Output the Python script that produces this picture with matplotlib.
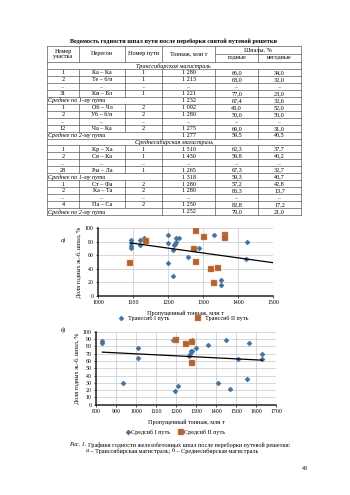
import matplotlib
matplotlib.use("Agg")
import matplotlib.pyplot as plt

plt.rcParams["font.family"] = ["Liberation Serif", "DejaVu Serif"]

W, H = 350, 495

# --- table data ---
table_title = "Ведомость годности шпал пути после переборки снятой путевой решетки"
header = ["Номер\nучастка", "Перегон", "Номер пути", "Тоннаж, млн т"]
header_group = "Шпалы, %"
header_sub = ["годные", "негодные"]

table_rows = [
    ("section", "Транссибирская магистраль"),
    ("row", ["1", "Ка – Ка", "1", "1 280", "66,0", "34,0"]),
    ("row", ["2", "Те – б/п", "1", "1 213", "68,0", "32,0"]),
    ("dots", None),
    ("row", ["31", "Ки – Бл", "1", "1 221", "77,0", "23,0"]),
    ("avg", ["Среднее по 1-му пути", "1 232", "67,4", "32,6"]),
    ("row", ["1", "Об – Чл", "2", "1 092", "48,0", "52,0"]),
    ("row", ["2", "Уб – б/п", "2", "1 280", "50,0", "50,0"]),
    ("dots", None),
    ("row", ["12", "Ча – Ка", "2", "1 275", "69,0", "31,0"]),
    ("avg", ["Среднее по 2-му пути", "1 277", "59,5", "40,5"]),
    ("section", "Среднесибирская магистраль"),
    ("row", ["1", "Кр – Ха", "1", "1 510", "62,3", "37,7"]),
    ("row", ["2", "Св – Ка", "1", "1 430", "59,8", "40,2"]),
    ("dots", None),
    ("row", ["28", "Ры – Ла", "1", "1 265", "67,3", "32,7"]),
    ("avg", ["Среднее по 1-му пути", "1 318", "59,3", "40,7"]),
    ("row", ["1", "Ст – Фа", "2", "1 280", "57,2", "42,8"]),
    ("row", ["2", "Ка – Та", "2", "1 280", "86,3", "13,7"]),
    ("dots", None),
    ("row", ["4", "Па – Са", "2", "1 250", "82,8", "17,2"]),
    ("avg", ["Среднее по 2-му пути", "1 252", "79,0", "21,0"]),
]

# --- chart a: Транссиб ---
transsib1_x = [1094, 1094, 1094, 1094, 1119, 1121, 1132, 1132, 1200, 1200, 1200,
               1213, 1214, 1218, 1221, 1224, 1224, 1232, 1257, 1288, 1331, 1351,
               1351, 1427, 1422]
transsib1_y = [82, 78, 74, 70, 75, 82, 85, 82, 90, 78, 48,
               68, 30, 75, 77, 85, 79, 85, 57, 70, 90, 24,
               16, 80, 55]
transsib2_x = [1092, 1138, 1281, 1275, 1280, 1302, 1322, 1342, 1331, 1362, 1362]
transsib2_y = [48, 81, 96, 69, 50, 87, 40, 41, 19, 90, 86]
trend_a_x = [1094, 1500]
trend_a_y = [78, 49]

# --- chart b: Средсиб ---
sredsib1_x = [832, 832, 937, 1010, 1010, 1187, 1197, 1210, 1265, 1270, 1275,
              1280, 1278, 1300, 1358, 1408, 1448, 1468, 1510, 1555, 1563, 1632,
              1632]
sredsib1_y = [87, 85, 30, 78, 64, 89, 19, 26, 67, 70, 73,
              74, 88, 78, 82, 30, 88, 21, 62, 35, 85, 70,
              62]
sredsib2_x = [1200, 1250, 1280, 1280]
sredsib2_y = [89, 83, 86, 57]
trend_b_x = [832, 1632]
trend_b_y = [72, 61]

BLUE = "#41719c"
ORANGE = "#b3622b"
LINE = "#5a5a5a"
FS = 4.4


def fx(x):
    return x / W


def fy(y):
    return 1 - y / H


fig = plt.figure(figsize=(W / 100, H / 100), dpi=100)
page = fig.add_axes([0, 0, 1, 1])
page.set_xlim(0, W)
page.set_ylim(H, 0)
page.axis("off")

# --- table ---
cols = [46.7, 79.3, 125, 161.7, 215.3, 258.3, 300.7]
top, head_bot, sub_y = 46, 62, 54
row_h = (215 - head_bot) / len(table_rows)

page.text(173.7, 41.5, table_title, ha="center", va="center", fontsize=FS, fontweight="bold")


def hline(y, x0=cols[0], x1=cols[-1]):
    page.plot([x0, x1], [y, y], color=LINE, lw=0.5)


def vline(x, y0, y1):
    page.plot([x, x], [y0, y1], color=LINE, lw=0.5)


hline(top)
hline(head_bot)
hline(sub_y, cols[4], cols[6])
for x in cols:
    vline(x, top, head_bot)
for i, txt in enumerate(header):
    page.text((cols[i] + cols[i + 1]) / 2, (top + head_bot) / 2, txt, ha="center",
              va="center", fontsize=FS, linespacing=1.0)
page.text((cols[4] + cols[6]) / 2, (top + sub_y) / 2, header_group, ha="center",
          va="center", fontsize=FS)
for i, txt in enumerate(header_sub):
    page.text((cols[4 + i] + cols[5 + i]) / 2, (sub_y + head_bot) / 2, txt, ha="center",
              va="center", fontsize=FS)

for k, (kind, vals) in enumerate(table_rows):
    y0 = head_bot + k * row_h
    y1 = y0 + row_h
    yc = (y0 + y1) / 2 + 0.3
    hline(y1)
    if kind == "section":
        vline(cols[0], y0, y1)
        vline(cols[-1], y0, y1)
        page.text((cols[0] + cols[-1]) / 2, yc, vals, ha="center", va="center",
                  fontsize=FS, style="italic")
    elif kind == "avg":
        for x in [cols[0], cols[3], cols[4], cols[5], cols[6]]:
            vline(x, y0, y1)
        page.text(cols[0] + 1.5, yc, vals[0], ha="left", va="center", fontsize=FS,
                  style="italic")
        for i, v in enumerate(vals[1:]):
            page.text((cols[3 + i] + cols[4 + i]) / 2, yc, v, ha="center",
                      va="center", fontsize=FS)
    else:
        for x in cols:
            vline(x, y0, y1)
        for i in range(6):
            v = "..." if kind == "dots" else vals[i]
            page.text((cols[i] + cols[i + 1]) / 2, yc, v, ha="center", va="center",
                      fontsize=FS, color="#555555" if kind == "dots" else "black")


def style_axes(ax, xticks, yticks):
    ax.set_xticks(xticks)
    ax.set_yticks(yticks)
    ax.grid(True, color="#c8c8c8", lw=0.5)
    ax.set_axisbelow(True)
    for s in ["top", "right"]:
        ax.spines[s].set_visible(False)
    for s in ["left", "bottom"]:
        ax.spines[s].set_linewidth(1.1)
        ax.spines[s].set_color("#222222")
    ax.tick_params(labelsize=FS - 0.2, length=1.5, width=0.5, pad=1.5)
    ax.set_ylabel("Доля годных ж.-б. шпал, %", fontsize=FS, labelpad=2)
    ax.set_xlabel("Пропущенный тоннаж, млн т", fontsize=FS, labelpad=4)


# --- chart a ---
ax_a = fig.add_axes([fx(98), fy(296), 175 / W, 68 / H])
ha1, = ax_a.plot(transsib1_x, transsib1_y, "D", ms=2.6, color=BLUE, mec=BLUE, mew=0.3)
ha2, = ax_a.plot(transsib2_x, transsib2_y, "s", ms=3.8, color=ORANGE, mec="#d9976a", mew=0.3)
ax_a.plot(trend_a_x, trend_a_y, color="black", lw=0.9)
ax_a.set_xlim(1000, 1500)
ax_a.set_ylim(0, 100)
style_axes(ax_a, range(1000, 1501, 100), range(0, 101, 20))
fig.legend([ha1, ha2], ["Транссиб I путь", "Транссиб II путь"], loc="center",
           bbox_to_anchor=(fx(183), fy(318)), ncol=2, frameon=False, fontsize=FS,
           handlelength=1.2, handletextpad=0.6, columnspacing=4.0)
fig.text(fx(63), fy(240), "а)", fontsize=FS, style="italic", ha="center", va="center")

# --- chart b ---
ax_b = fig.add_axes([fx(96), fy(404.7), 180 / W, 73 / H])
hb1, = ax_b.plot(sredsib1_x, sredsib1_y, "D", ms=2.6, color=BLUE, mec=BLUE, mew=0.3)
hb2, = ax_b.plot(sredsib2_x, sredsib2_y, "s", ms=3.8, color=ORANGE, mec="#d9976a", mew=0.3)
ax_b.plot(trend_b_x, trend_b_y, color="black", lw=0.9)
ax_b.set_xlim(800, 1700)
ax_b.set_ylim(0, 100)
style_axes(ax_b, range(800, 1701, 100), range(0, 101, 10))
fig.legend([hb1, hb2], ["Средсиб I путь", "Средсиб II путь"], loc="center",
           bbox_to_anchor=(fx(176), fy(432.7)), ncol=2, frameon=False, fontsize=FS,
           handlelength=0.6, handletextpad=0.2, columnspacing=1.5)
fig.text(fx(63), fy(330), "б)", fontsize=FS, style="italic", ha="center", va="center")

# --- caption ---
renderer = fig.canvas.get_renderer()


def text_run(x, y, parts):
    for txt, st in parts:
        t = page.text(x, y, txt, fontsize=FS, style=st, ha="left", va="center")
        bb = t.get_window_extent(renderer)
        x += bb.width * W / fig.bbox.width


text_run(69.5, 445, [("Рис. 1. ", "italic"),
                     ("Графики годности железобетонных шпал после переборки путевой решетки:", "normal")])
text_run(86, 451, [("а", "italic"), (" – Транссибирская магистраль; ", "normal"),
                   ("б", "italic"), (" – Среднесибирская магистраль", "normal")])
page.text(305, 468, "43", fontsize=FS, ha="center", va="center")

fig.savefig("out.png", dpi=100)
